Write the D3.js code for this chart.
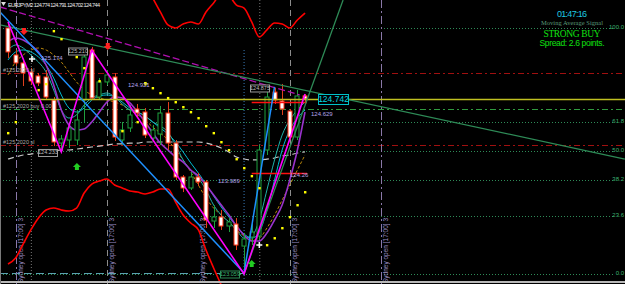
<!DOCTYPE html>
<html><head><meta charset="utf-8">
<script src="https://cdn.jsdelivr.net/npm/d3@7"></script>
<style>
html,body{margin:0;padding:0;background:#000;overflow:hidden;}
svg{display:block;}
</style></head><body>
<svg id="chart" width="625" height="284"></svg>
<script>
// EURJPY M2 bars, oldest -> newest
var symbol = "EURJPY,M2";
var opens  = [125.428,125.168,125.091,125.004,124.966,124.956,124.734,124.320,124.349,124.349,124.734,125.216,124.763,124.908,124.956,124.349,124.465,124.648,124.619,124.368,124.407,124.609,124.320,123.993,123.887,123.993,123.945,123.569,123.608,123.521,123.540,123.328,123.415,123.425,124.253,124.811,124.725,124.628,124.378,124.774];
var highs  = [125.486,125.216,125.120,125.043,124.994,125.023,124.763,124.397,124.494,124.638,125.197,125.245,124.946,125.023,124.994,124.523,124.686,124.696,124.657,124.494,124.677,124.715,124.349,124.012,124.041,124.031,123.964,123.723,123.675,123.598,123.598,123.454,123.540,124.301,124.879,124.850,124.889,124.648,124.831,124.791];
var lows   = [125.139,125.062,124.869,124.879,124.869,124.734,124.291,124.234,124.272,124.301,124.523,124.734,124.734,124.879,124.340,124.301,124.426,124.561,124.368,124.330,124.301,124.253,123.964,123.848,123.868,123.906,123.502,123.502,123.483,123.463,123.290,123.059,123.338,123.386,124.205,124.696,124.590,124.349,124.349,124.702];
var closes = [125.197,125.091,124.994,124.917,124.898,124.763,124.330,124.359,124.465,124.542,125.149,124.754,124.908,124.975,124.378,124.446,124.590,124.609,124.397,124.446,124.609,124.320,123.993,123.887,123.993,123.945,123.579,123.608,123.521,123.560,123.338,123.396,123.463,124.253,124.763,124.734,124.648,124.378,124.773,124.744];

// moving averages (one value per bar)
var maViolet = [125.293,125.331,125.312,125.264,125.197,125.071,124.879,124.638,124.494,124.446,124.455,124.523,124.619,124.715,124.763,124.754,124.706,124.619,124.523,124.417,124.320,124.253,124.186,124.137,124.060,124.003,123.916,123.820,123.723,123.627,123.521,123.434,123.377,123.377,123.454,123.579,123.723,123.964,124.253,124.619];
var maTeal   = [125.216,125.264,125.235,125.168,125.100,125.004,124.831,124.638,124.561,124.590,124.686,124.754,124.783,124.802,124.763,124.696,124.638,124.619,124.580,124.523,124.484,124.426,124.301,124.157,124.060,123.983,123.868,123.723,123.627,123.560,123.483,123.405,123.425,123.579,123.868,124.157,124.397,124.542,124.638,124.715];
var maCyan   = [125.120,125.197,125.216,125.197,125.149,125.071,124.946,124.783,124.657,124.619,124.657,124.734,124.773,124.783,124.763,124.715,124.657,124.619,124.580,124.523,124.465,124.407,124.330,124.234,124.128,124.031,123.925,123.810,123.704,123.608,123.521,123.444,123.405,123.463,123.675,123.964,124.253,124.446,124.561,124.638];
var maOlive  = [124.975,125.100,125.168,125.216,125.235,125.216,125.168,125.100,125.004,124.908,124.831,124.783,124.754,124.734,124.715,124.686,124.638,124.590,124.542,124.474,124.417,124.349,124.253,124.157,124.041,123.916,123.791,123.694,123.627,123.560,123.483,123.425,123.386,123.405,123.502,123.627,123.771,123.916,124.060,124.205];
var maGray   = [124.166,124.186,124.205,124.214,124.224,124.234,124.243,124.253,124.253,124.262,124.272,124.282,124.291,124.301,124.311,124.311,124.320,124.320,124.330,124.330,124.330,124.330,124.330,124.330,124.330,124.330,124.320,124.301,124.272,124.234,124.186,124.166,124.157,124.157,124.166,124.176,124.195,124.205,124.224,124.234];

// red band, lower part (bars 0..28) and upper part (bars 19..39)
var redLow  = [123.155,123.213,123.348,123.483,123.598,123.675,123.694,123.675,123.665,123.694,123.839,123.925,123.954,123.974,123.916,123.887,123.858,123.848,123.829,123.848,123.877,123.877,123.752,123.627,123.550,123.483,123.290,123.117,122.953];
var redHigh = [125.717,125.582,125.457,125.428,125.466,125.486,125.466,125.582,125.669,125.755,125.736,125.649,125.620,125.486,125.341,125.409,125.476,125.466,125.428,125.505,125.572];
var redHighStart = 19;

// parabolic SAR dots [bar, price]
var sarBars   = [0,1,4,5,6,7,9,10,12,15,17,18,19,20,21,22,23,24,25,26,27,28,29,30,31,32,33,34,35,36,37,38,39];
var sarPrices = [124.417,124.523,124.831,124.889,125.399,125.322,125.149,125.043,124.917,124.436,124.523,124.898,124.850,124.802,124.754,124.715,124.667,124.619,124.561,124.484,124.417,124.330,124.253,124.166,124.080,124.003,123.887,123.338,123.405,123.502,123.608,123.723,123.848];

// zigzag pivots
var zigBars   = [0,7,11,31,39];
var zigPrices = [125.486,124.234,125.216,123.059,124.791];

// fibonacci from low to high
var fibLow = 123.059, fibHigh = 125.428;
var fibRatios = [0, 0.236, 0.382, 0.5, 0.618, 1];
var fibNames  = ["0.0","23.6","38.2","50.0","61.8","100.0"];

// horizontal levels
var bidPrice = 124.744;
var slLevels = [124.994, 124.301];
var buyLevel = 124.648;
var lowLine = 123.065;
var boxLevels = [124.715, 124.031];

// trend lines [bar0, price0, bar1, price1]
var tlBlue   = [[-1.05,125.582,31,123.068],[31,123.068,35,124.860]];
var tlGreen  = [[-1.05,125.457,81,124.166],[31,123.059,44,125.697]];
var tlMagenta = [-1.05,125.630,38.3,124.783];

// session lines (bar 25 has the label only)
var sessionBars = [1,13,25,37,49];
var sessionDrawn = [true,true,false,true,true];
var sessionText = "Sydney open [17:00] 3";

// signal arrows
var upArrows   = [[9.05,124.089],[32,123.155]];
var downArrows = [[2.1,125.399],[13.1,125.254]];
var crosses    = [[3.15,125.129],[33,123.338]];
var yellowCross = [[18.1,124.889]];

// price labels [bar, price, text, kind]
var labels = [
  [7.88,125.206,"125.210","box"],
  [3.94,124.229,"124.233","box"],
  [31.78,124.850,"124.875","box"],
  [27.84,123.059,"123.059","green"],
  [40.71,124.744,"124.742","cyan"],
  [4.33,125.139,"125.174","txt"],
  [15.76,124.879,"124.921","txt"],
  [27.58,123.954,"123.989","txt"],
  [39.79,124.600,"124.629","txt"],
  [37.03,124.012,"124.26","txt"],
  [-0.66,125.023,"#125.2020 sl","ord"],
  [-0.66,124.677,"#125.2020 buy 0.00","ord"],
  [-0.66,124.330,"#125.2020 sl","ord"]
];

var W = 625, H = 284;
var svg = d3.select("#chart");
svg.append("rect").attr("width", W).attr("height", H).attr("fill", "#000");

var x = d3.scaleLinear().domain([0, 39]).range([8, 305]);
var y = d3.scaleLinear().domain([123.059, 124.744]).range([274, 99]);

function hline(p, col, dash, w, x0, x1) {
  svg.append("line").attr("x1", x0 == null ? 0 : x0).attr("x2", x1 == null ? W : x1)
    .attr("y1", Math.round(y(p)) + 0.5).attr("y2", Math.round(y(p)) + 0.5)
    .attr("stroke", col).attr("stroke-width", w || 1).attr("stroke-dasharray", dash || null);
}

// fib levels
fibRatios.forEach(function (r, k) {
  var p = fibLow + r * (fibHigh - fibLow);
  hline(p, "#2e8b57", "1,2", 1, 0, 613);
  svg.append("text").attr("x", 624).attr("y", y(p) + 1).attr("text-anchor", "end")
    .attr("font-family", "Liberation Sans").attr("font-size", 6).attr("fill", "#3cb371").text(fibNames[k]);
});
slLevels.forEach(function (p) { hline(p, "#a01010", "6,3,2,3"); });
hline(buyLevel, "#2f9a3f", "6,3,2,3");
hline(lowLine, "#5aa0b0", "8,4", 1, 0, x(31));

// session lines
sessionBars.forEach(function (b, k) {
  var xx = Math.round(x(b)) + 0.5;
  var col = k % 2 === 0 ? "#8a78a8" : "#8c8c8c";
  if (sessionDrawn[k]) {
    svg.append("line").attr("x1", xx).attr("x2", xx).attr("y1", 0).attr("y2", H)
      .attr("stroke", col).attr("stroke-dasharray", k % 2 === 0 ? "8,3,2,3" : "6,4");
  }
  svg.append("text").attr("transform", "translate(" + (xx + 6) + ",283) rotate(-90)")
    .attr("font-family", "Liberation Sans").attr("font-size", 6.5).attr("fill", "#9d8fc4").text(sessionText);
});
[3, 33].forEach(function (b) {
  svg.append("line").attr("x1", x(b) + 0.5).attr("x2", x(b) + 0.5).attr("y1", 0).attr("y2", H)
    .attr("stroke", "#777").attr("stroke-dasharray", "1,2");
});
svg.append("line").attr("x1", x(31)).attr("x2", x(31)).attr("y1", 50).attr("y2", H)
  .attr("stroke", "#3a7ab8").attr("stroke-dasharray", "1,2");

// indicator curves
function curve(vals, col, w, dash, start) {
  var s = start || 0;
  var ln = d3.line().x(function (d, i) { return x(i + s); }).y(function (d) { return y(d); }).curve(d3.curveMonotoneX);
  svg.append("path").attr("d", ln(vals)).attr("fill", "none").attr("stroke", col)
    .attr("stroke-width", w).attr("stroke-dasharray", dash || null);
}
curve(maGray, "#c8c8c8", 1.2, "6,4");
curve(maOlive, "#b8860b", 1, "3,2");
curve(maCyan, "#00bcd4", 1);
curve(maTeal, "#20b2aa", 1);
curve(maViolet, "#9932cc", 1.6);
curve(redLow, "#ff0000", 1.6);
curve(redHigh, "#ff0000", 1.6, null, redHighStart);

// candles
var bw = 5;
var idx = d3.range(opens.length);
var cg = svg.append("g");
cg.selectAll("line.wick").data(idx).join("line")
  .attr("x1", function (i) { return Math.round(x(i)) + 0.5; })
  .attr("x2", function (i) { return Math.round(x(i)) + 0.5; })
  .attr("y1", function (i) { return y(highs[i]); })
  .attr("y2", function (i) { return y(lows[i]); })
  .attr("stroke", function (i) { return closes[i] >= opens[i] ? "#1f9f3f" : "#e0401c"; });
cg.selectAll("rect.body").data(idx).join("rect")
  .attr("x", function (i) { return Math.round(x(i)) - 2; })
  .attr("width", bw - 1)
  .attr("y", function (i) { return y(Math.max(opens[i], closes[i])); })
  .attr("height", function (i) { return Math.max(1, Math.abs(y(opens[i]) - y(closes[i]))); })
  .attr("fill", function (i) { return closes[i] >= opens[i] ? "#000" : "#fff"; })
  .attr("stroke", function (i) { return closes[i] >= opens[i] ? "#1f9f3f" : "#ff3010"; });

// bid line and box lines
hline(bidPrice, "#c0c020", null, 1.3);
boxLevels.forEach(function (p) { hline(p, "#ff1010", null, 1.6, x(32), x(39) + 2); });

// trend lines
function seg(s, col, w, dash) {
  svg.append("line").attr("x1", x(s[0])).attr("y1", y(s[1])).attr("x2", x(s[2])).attr("y2", y(s[3]))
    .attr("stroke", col).attr("stroke-width", w).attr("stroke-dasharray", dash || null);
}
seg(tlMagenta, "#b010b0", 1.3, "7,3");
tlGreen.forEach(function (s) { seg(s, "#2e8b57", 1.3); });
tlBlue.forEach(function (s) { seg(s, "#1e90ff", 1.5); });

// zigzag
var zz = d3.line().x(function (d) { return x(d[0]); }).y(function (d) { return y(d[1]); });
svg.append("path").attr("d", zz(d3.zip(zigBars, zigPrices))).attr("fill", "none")
  .attr("stroke", "#ff00ff").attr("stroke-width", 1.6);

// SAR
svg.selectAll("rect.sar").data(d3.zip(sarBars, sarPrices)).join("rect")
  .attr("x", function (d) { return x(d[0]) - 1; }).attr("y", function (d) { return y(d[1]) - 1; })
  .attr("width", 2.4).attr("height", 2.4).attr("fill", "#ffff00");

// arrows and marks
upArrows.forEach(function (a) {
  var cx = x(a[0]), cy = y(a[1]);
  svg.append("path").attr("d", "M" + cx + "," + (cy - 4) + "l4,4h-2v3h-4v-3h-2z").attr("fill", "#22cc22");
});
downArrows.forEach(function (a) {
  var cx = x(a[0]), cy = y(a[1]);
  svg.append("path").attr("d", "M" + cx + "," + (cy + 4) + "l4,-4h-2v-3h-4v3h-2z").attr("fill", "#ff2020");
});
crosses.forEach(function (a) {
  var cx = x(a[0]), cy = y(a[1]);
  svg.append("path").attr("d", "M" + (cx - 3) + "," + cy + "h6M" + cx + "," + (cy - 3) + "v6")
    .attr("stroke", "#fff").attr("stroke-width", 1.5);
});
yellowCross.forEach(function (a) {
  var cx = x(a[0]), cy = y(a[1]);
  svg.append("path").attr("d", "M" + (cx - 2) + "," + cy + "h4M" + cx + "," + (cy - 2) + "v4")
    .attr("stroke", "#ffff00").attr("stroke-width", 1);
});

// labels
labels.forEach(function (l) {
  var lx = x(l[0]), ly = y(l[1]);
  if (l[3] === "box" || l[3] === "green" || l[3] === "cyan") {
    var fs = l[3] === "cyan" ? 8.5 : 5.5;
    var tw = l[3] === "cyan" ? 30 : 19, th = l[3] === "cyan" ? 10 : 7;
    var stroke = l[3] === "box" ? "#9a9a9a" : (l[3] === "green" ? "#2e8b57" : "#00c0c8");
    var tcol = l[3] === "box" ? "#bdbdbd" : (l[3] === "green" ? "#3cb371" : "#00d8e0");
    svg.append("rect").attr("x", lx + 0.5).attr("y", ly - th / 2 + 0.5).attr("width", tw).attr("height", th)
      .attr("fill", "#000").attr("stroke", stroke);
    svg.append("text").attr("x", lx + tw / 2 + 0.5).attr("y", ly + fs * 0.36).attr("text-anchor", "middle")
      .attr("font-family", "Liberation Sans").attr("font-size", fs).attr("fill", tcol).text(l[2]);
  } else {
    svg.append("text").attr("x", lx).attr("y", ly + 2)
      .attr("font-family", "Liberation Sans").attr("font-size", l[3] === "ord" ? 5.5 : 6)
      .attr("fill", l[3] === "ord" ? "#a8a8a8" : "#b4a4e8").text(l[2]);
  }
});

// header
var last = opens.length - 1;
svg.append("path").attr("d", "M1,2h5l-2.5,4z").attr("fill", "#ddd");
svg.append("text").attr("x", 8).attr("y", 7).attr("font-family", "Liberation Sans").attr("font-size", 5.6)
  .attr("fill", "#e8e8e8").attr("textLength", 92)
  .text(symbol + "  " + [opens[last], highs[last], lows[last], closes[last]].map(function (v) { return v.toFixed(3); }).join(" "));

// signal panel
var px = 572;
svg.append("text").attr("x", px).attr("y", 17).attr("text-anchor", "middle").attr("font-family", "Liberation Sans")
  .attr("font-size", 9).attr("fill", "#1ec8e0").attr("textLength", 30).text("01:47:16");
svg.append("text").attr("x", px).attr("y", 25).attr("text-anchor", "middle").attr("font-family", "Liberation Serif")
  .attr("font-size", 6.5).attr("fill", "#5a9a78").attr("textLength", 62).text("Moving Average Signal");
svg.append("text").attr("x", px).attr("y", 37).attr("text-anchor", "middle").attr("font-family", "Liberation Serif")
  .attr("font-size", 9.5).attr("fill", "#10e010").attr("textLength", 57).text("STRONG BUY");
svg.append("text").attr("x", px).attr("y", 46).attr("text-anchor", "middle").attr("font-family", "Liberation Sans")
  .attr("font-size", 8.5).attr("fill", "#10e010").attr("textLength", 65).text("Spread: 2.6 points.");

// frame
svg.append("line").attr("x1", 0).attr("x2", W).attr("y1", 282).attr("y2", 282).attr("stroke", "#b8b8b8").attr("stroke-width", 2);
svg.append("line").attr("x1", 0.5).attr("x2", 0.5).attr("y1", 0).attr("y2", H).attr("stroke", "#7a7a7a");
</script>
</body></html>
